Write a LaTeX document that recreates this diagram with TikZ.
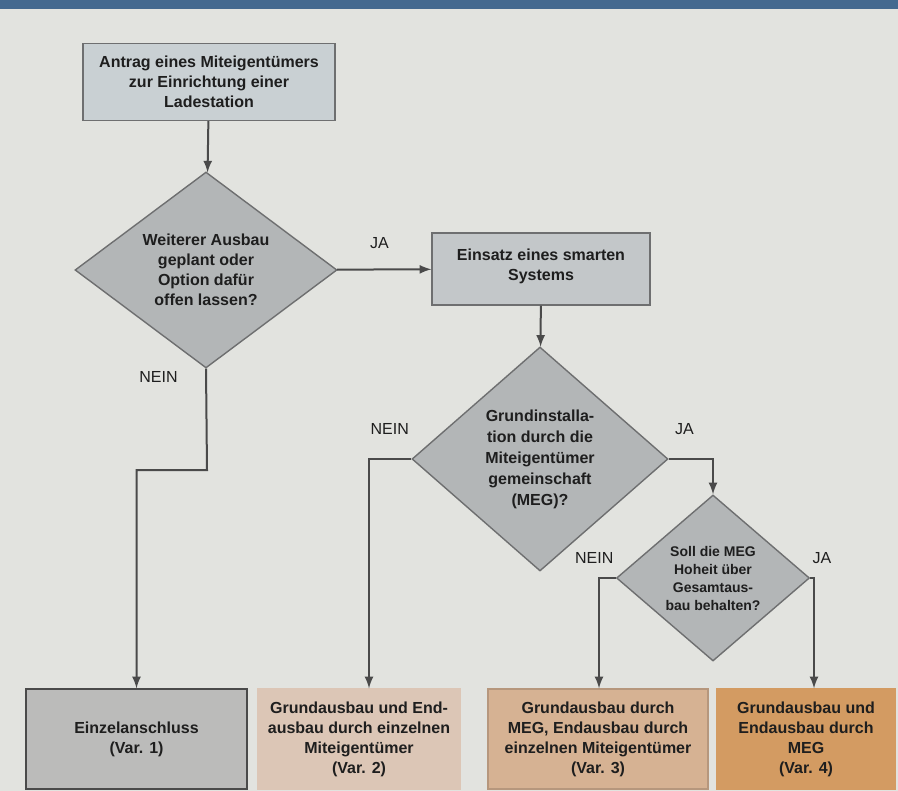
\documentclass[tikz,border=0pt]{standalone}
\usepackage{fontspec}
\setmainfont{Liberation Sans}
\usetikzlibrary{shapes.geometric,positioning}

\definecolor{paper}{HTML}{E2E3DF}
\definecolor{headband}{HTML}{44698F}
\definecolor{frame}{HTML}{6E6F70}
\definecolor{wire}{HTML}{4A4A4A}
\definecolor{ink}{HTML}{1E1E1E}
\definecolor{startbox}{HTML}{C9D0D3}
\definecolor{smartbox}{HTML}{C3C7C9}
\definecolor{rhomb}{HTML}{B3B6B7}
\definecolor{varone}{HTML}{BBBBBA}
\definecolor{vartwo}{HTML}{DCC6B6}
\definecolor{varthree}{HTML}{D6B293}
\definecolor{varfour}{HTML}{D39B62}

\begin{document}
\begin{tikzpicture}[x=0.5pt,y=-0.5pt]
    \tikzstyle{block}=[rectangle, draw=frame, line width=0.7pt, inner sep=0pt, align=center, text=ink, font=\fontsize{8}{10}\selectfont\bfseries]
    \tikzstyle{decision}=[diamond, draw=frame, fill=rhomb, line width=0.7pt, inner sep=0pt, align=center, text=ink, font=\fontsize{8}{10}\selectfont\bfseries]
    \tikzstyle{connect}=[-latex, line width=1pt, draw=wire]
    \tikzstyle{answer}=[inner sep=1pt, text=ink, font=\fontsize{8}{10}\selectfont]
    \fill[paper] (0,0) rectangle (898,791);
    \fill[headband] (0,0) rectangle (898,9);
    \useasboundingbox (0,0) rectangle (898,791);
      \node[block, fill=startbox, minimum width=126pt, minimum height=38.5pt] (antrag) at (209,82)
        {Antrag eines Miteigentümers\\zur Einrichtung einer\\Ladestation};
      \node[decision, aspect=1.33, minimum width=131pt, minimum height=98pt] (ausbau) at (206,270)
        {Weiterer Ausbau\\geplant oder\\Option dafür\\offen lassen?};
      \node[block, fill=smartbox, minimum width=109pt, minimum height=36pt] (smart) at (541,269)
        {Einsatz eines smarten\\Systems\\[-6pt]};
      \node[decision, aspect=1.14, minimum width=128pt, minimum height=112pt,
            font=\fontsize{8}{10.5}\selectfont\bfseries] (grund) at (540,459)
        {Grundinstalla-\\tion durch die\\Miteigentümer\\gemeinschaft\\(MEG)?};
      \node[decision, aspect=1.16, minimum width=96.5pt, minimum height=83pt,
            font=\fontsize{7}{9}\selectfont\bfseries] (hoheit) at (713,578)
        {Soll die MEG\\Hoheit über\\Gesamtaus-\\bau behalten?};
      \node[block, fill=varone, draw=wire, minimum width=110.5pt, minimum height=50pt] (var1) at (136.5,739)
        {Einzelanschluss\\(Var. 1)};
      \node[block, fill=vartwo, draw=vartwo, minimum width=101pt, minimum height=50pt] (var2) at (359,739)
        {Grundausbau und End-\\ausbau durch einzelnen\\Miteigentümer\\(Var. 2)};
      \node[block, fill=varthree, draw=varthree!85!black, minimum width=110pt, minimum height=50pt] (var3) at (598,739)
        {Grundausbau durch\\MEG, Endausbau durch\\einzelnen Miteigentümer\\(Var. 3)};
      \node[block, fill=varfour, draw=varfour, minimum width=89pt, minimum height=50pt] (var4) at (806,739)
        {Grundausbau und\\Endausbau durch\\MEG\\(Var. 4)};
      % antworten
      \node[answer, below left=0pt and 13pt of ausbau.south] (nein1) {NEIN};
      \node[answer, above left=11pt and 0pt of grund.west] (nein2) {NEIN};
      \node[answer, above right=11pt and 2pt of grund.east] (ja2) {JA};
      \node[answer, above left=6pt and 0pt of hoheit.west] (nein3) {NEIN};
      \node[answer, above right=6pt and 0pt of hoheit.east] (ja3) {JA};
      % knicke
      \coordinate (k1) at (207,470);
      \coordinate (k2) at (369,459);
      \coordinate (k3) at (599,578);
      \coordinate (k4) at (814,578);
      \path
        (antrag) edge [connect] (ausbau)
        (ausbau) edge [connect] node[answer, above=9pt, pos=0.45] (ja1) {JA} (smart)
        (smart) edge [connect] (grund);
      \draw[connect] (ausbau.south) -- (k1) -- (k1 -| var1.north) -- (var1.north);
      \draw[connect] (grund.west) -- (k2) -- (k2 |- var2.north);
      \draw[connect] (grund.east) -| (hoheit.north);
      \draw[connect] (hoheit.west) -- (k3) -- (k3 |- var3.north);
      \draw[connect] (hoheit.east) -- (k4) -- (k4 |- var4.north);
\end{tikzpicture}
\end{document}
